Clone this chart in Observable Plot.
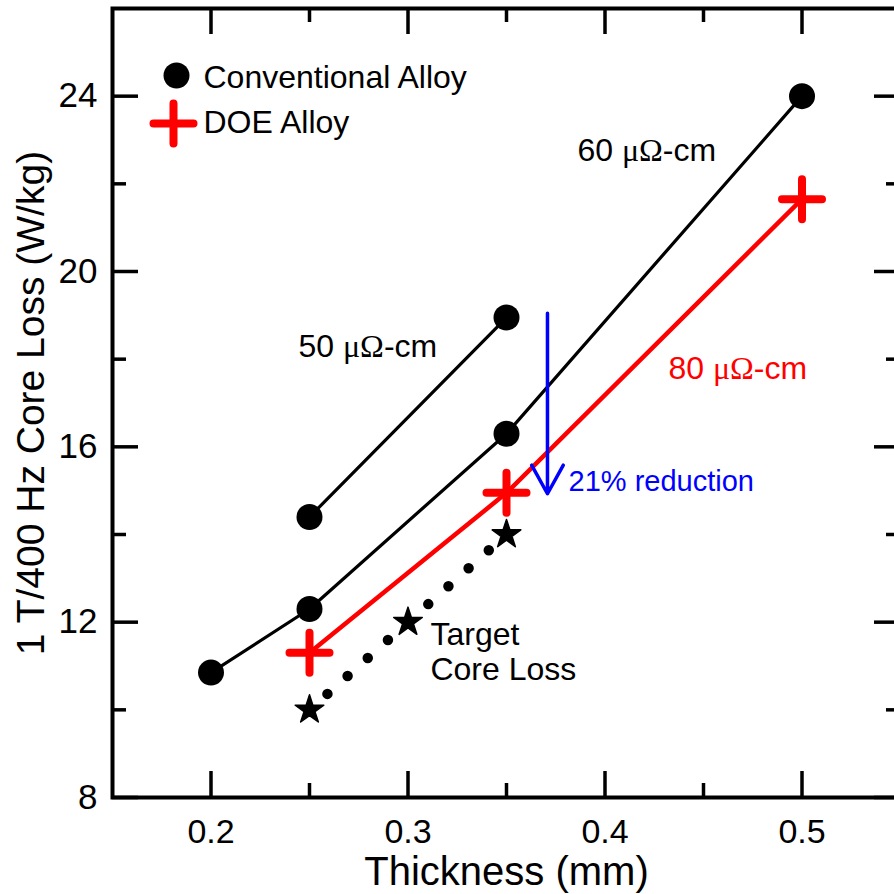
<!DOCTYPE html>
<html>
<head>
<meta charset="utf-8">
<script src="https://cdn.jsdelivr.net/npm/d3@7"></script>
<script src="https://cdn.jsdelivr.net/npm/@observablehq/plot@0.6"></script>
<style>
  html, body { margin: 0; padding: 0; background: white; overflow: hidden; }
  #chart { width: 894px; height: 894px; overflow: hidden; }
</style>
</head>
<body>
<div id="chart"></div>
<script>
// ---- data ----
const thickness50 = [0.25, 0.35];
const loss50 = [14.4, 18.95];
const thickness60 = [0.2, 0.25, 0.35, 0.5];
const loss60 = [10.85, 12.3, 16.3, 24.0];
const thicknessDOE = [0.25, 0.35, 0.5];
const lossDOE = [11.3, 14.95, 21.65];
const thicknessTarget = [0.25, 0.3, 0.35];
const lossTarget = [10, 12, 14];
const reductionX = [0.3708];
const reductionFrom = [19.05];
const reductionTo = [14.93];
const xMajorTicks = [0.2, 0.3, 0.4, 0.5];
const xMinorTicks = [0.25, 0.35, 0.45];
const yMajorTicks = [8, 12, 16, 20, 24];
const yMinorTicks = [10, 14, 18, 22];

const toPts = (xs, ys) => xs.map((x, i) => ({x, y: ys[i]}));
const s50 = toPts(thickness50, loss50);
const s60 = toPts(thickness60, loss60);
const sDOE = toPts(thicknessDOE, lossDOE);
const sTarget = toPts(thicknessTarget, lossTarget);
const arrowData = reductionX.map((x, i) => ({x, y1: reductionFrom[i], y2: reductionTo[i]}));

const plusSym = {
  draw(ctx, size) {
    const r = Math.sqrt(size / Math.PI);
    ctx.moveTo(-r, 0); ctx.lineTo(r, 0);
    ctx.moveTo(0, -r); ctx.lineTo(0, r);
  }
};

const W = 900, H = 894, mL = 112, mT = 8, mB = 97, mR = 0;
const pw = W - mL - mR, ph = H - mT - mB;
const font = "'Liberation Sans', Arial, sans-serif";

const chart = Plot.plot({
  width: W, height: H,
  marginLeft: mL, marginTop: mT, marginBottom: mB, marginRight: mR,
  style: {fontFamily: font, maxWidth: "none", overflow: "visible", background: "white"},
  x: {domain: [0.15, 0.55]},
  y: {domain: [8, 26]},
  marks: [
    // inward ticks
    Plot.ruleX(xMajorTicks, {x: d => d, insetTop: ph - 26, strokeWidth: 3.5}),
    Plot.ruleX(xMinorTicks, {x: d => d, insetTop: ph - 14, strokeWidth: 3.5}),
    Plot.ruleX(xMajorTicks, {x: d => d, insetBottom: ph - 26, strokeWidth: 3.5}),
    Plot.ruleX(xMinorTicks, {x: d => d, insetBottom: ph - 14, strokeWidth: 3.5}),
    Plot.ruleY(yMajorTicks, {y: d => d, insetRight: pw - 26, strokeWidth: 3.5}),
    Plot.ruleY(yMinorTicks, {y: d => d, insetRight: pw - 14, strokeWidth: 3.5}),
    Plot.ruleY(yMajorTicks, {y: d => d, insetLeft: pw - 26, strokeWidth: 3.5}),
    Plot.ruleY(yMinorTicks, {y: d => d, insetLeft: pw - 14, strokeWidth: 3.5}),
    Plot.frame({stroke: "black", strokeWidth: 4}),
    Plot.axisX({ticks: xMajorTicks, tickSize: 0, tickPadding: 21, fontSize: 34, label: null, tickFormat: d => String(d)}),
    Plot.axisY({ticks: yMajorTicks, tickSize: 0, tickPadding: 15, fontSize: 35, label: null}),
    Plot.text(["Thickness (mm)"], {frameAnchor: "bottom", dy: 59, lineAnchor: "top", textAnchor: "middle", fontSize: 40, fill: "black"}),
    Plot.text(["1 T/400 Hz Core Loss (W/kg)"], {frameAnchor: "left", dx: -81, rotate: -90, textAnchor: "middle", lineAnchor: "middle", fontSize: 39, fill: "black"}),
    // series lines
    Plot.line(s50, {x: "x", y: "y", stroke: "black", strokeWidth: 3.2}),
    Plot.line(s60, {x: "x", y: "y", stroke: "black", strokeWidth: 3.2}),
    Plot.line(sDOE, {x: "x", y: "y", stroke: "#ff0000", strokeWidth: 4.5}),
    Plot.line(sTarget, {x: "x", y: "y", stroke: "black", strokeWidth: 10.5, strokeDasharray: "0 27", strokeDashoffset: 3, strokeLinecap: "round"}),
    // markers
    Plot.dot(s50, {x: "x", y: "y", r: 13, fill: "black", stroke: "none"}),
    Plot.dot(s60, {x: "x", y: "y", r: 13, fill: "black", stroke: "none"}),
    Plot.dot(sDOE, {x: "x", y: "y", symbol: plusSym, r: 20, stroke: "#ff0000", strokeWidth: 8, fill: "none", strokeLinecap: "round"}),
    Plot.dot(sTarget, {x: "x", y: "y", symbol: "star", r: 9, fill: "black", stroke: "black", strokeWidth: 1.5, strokeLinejoin: "round"}),
    // reduction arrow
    Plot.arrow(arrowData, {x: "x", y1: "y1", y2: "y2", stroke: "#0000ff", strokeWidth: 3.5, headLength: 14, headAngle: 58}),
    // legend
    Plot.dot([0], {frameAnchor: "top-left", dx: 64, dy: 67, r: 13, fill: "black", stroke: "none"}),
    Plot.dot([0], {frameAnchor: "top-left", dx: 61, dy: 115, symbol: plusSym, r: 20, stroke: "#ff0000", strokeWidth: 8, fill: "none", strokeLinecap: "round"}),
    Plot.text(["Conventional Alloy"], {frameAnchor: "top-left", dx: 91, dy: 69, textAnchor: "start", lineAnchor: "middle", fontSize: 32, fill: "black"}),
    Plot.text(["DOE Alloy"], {frameAnchor: "top-left", dx: 91, dy: 114, textAnchor: "start", lineAnchor: "middle", fontSize: 32, fill: "black"}),
    // annotations
    Plot.text(["60 μΩ-cm"], {x: 0.386, y: 22.76, textAnchor: "start", fontSize: 32, fill: "black"}),
    Plot.text(["50 μΩ-cm"], {x: 0.2444, y: 18.29, textAnchor: "start", fontSize: 32, fill: "black"}),
    Plot.text(["80 μΩ-cm"], {x: 0.4322, y: 17.77, textAnchor: "start", fontSize: 32, fill: "#ff0000"}),
    Plot.text(["21% reduction"], {x: 0.3815, y: 15.21, textAnchor: "start", fontSize: 29, fill: "#0000ff"}),
    Plot.text(["Target\nCore Loss"], {x: 0.3114, y: 11.34, textAnchor: "start", fontSize: 32, lineHeight: 1.12, fill: "black"})
  ]
});

// Greek letters in a serif face, as in the reference
d3.select(chart).selectAll("text").each(function() {
  const t = this.textContent;
  if (t.includes("μΩ")) {
    const [a, b] = t.split("μΩ");
    const sel = d3.select(this);
    sel.text(null);
    sel.append("tspan").text(a);
    sel.append("tspan").style("font-family", "'Liberation Serif', 'Times New Roman', serif").text("μΩ");
    sel.append("tspan").text(b);
  }
});

document.getElementById("chart").appendChild(chart);
</script>
</body>
</html>
